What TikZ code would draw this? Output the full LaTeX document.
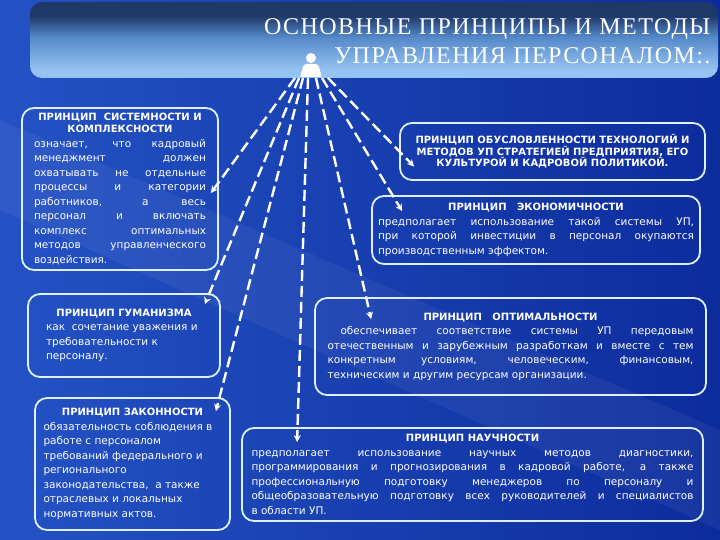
\documentclass[tikz,border=0pt]{standalone}
\usepackage{fontspec}
\usetikzlibrary{arrows.meta, positioning}
\setmainfont{DejaVu Sans}
\newfontfamily\headfont[LetterSpace=6]{Liberation Serif}
\definecolor{bgleft}{RGB}{36,82,196}
\definecolor{bgright}{RGB}{12,44,156}
\definecolor{frame}{RGB}{222,240,255}
\definecolor{bandark}{RGB}{30,56,104}
\definecolor{banmid}{RGB}{84,136,200}
\definecolor{banlight}{RGB}{150,196,242}
\pgfdeclareverticalshading{banner}{100bp}{color(0bp)=(banlight); color(30bp)=(banlight); color(52bp)=(banmid); color(66bp)=(bandark); color(100bp)=(bandark)}
\def\cornerrad{12pt}
\newcommand{\ptitle}[1]{{\centering\bfseries\fontsize{10}{12.5}\selectfont #1\par}}

\begin{document}
\begin{tikzpicture}[x=1pt,y=-1pt]
    \tikzstyle{principle}=[draw=frame, line width=1.8pt, rounded corners=\cornerrad, text=white, inner sep=0pt, align=justify, font=\fontsize{10.5}{14.5}\selectfont]
    \tikzstyle{link}=[-{Stealth[length=7pt,width=7pt]}, white, line width=2.4pt, dash pattern=on 11pt off 5pt]

    % Background and title banner
    \useasboundingbox (0,0) rectangle (720,540);
    \shade[left color=bgleft, right color=bgright] (0,0) rectangle (720,540);
    \fill[white, opacity=0.05] (0,120) -- (0,210) -- (720,530) -- (720,430) -- cycle;
    \shade[shading=banner, rounded corners=12pt] (30,2) rectangle (718,78);
    \node[font=\headfont\fontsize{24}{29}\selectfont, text=white, align=right, anchor=east] (title) at (714,41)
        {ОСНОВНЫЕ ПРИНЦИПЫ И МЕТОДЫ\\ УПРАВЛЕНИЯ ПЕРСОНАЛОМ:.};

    % The little figure the arrows start from
    \fill[white] (311,58) circle (5);
    \fill[white, rounded corners=2pt] (300,77) -- (304,64) -- (318,64) -- (322,77) -- cycle;
    \coordinate (hub) at (311,78);

    % Left column
    \node[principle, minimum width=196, minimum height=162, text width=172] (P-sys) at (120,189) {%
        \ptitle{ПРИНЦИП\ \ СИСТЕМНОСТИ И\\ КОМПЛЕКСНОСТИ}
        означает, что кадровый\linebreak менеджмент должен\linebreak охватывать не отдельные\linebreak
        процессы и категории\linebreak работников, а весь\linebreak персонал и включать\linebreak
        комплекс оптимальных\linebreak методов управленческого\linebreak воздействия.};
    \node[principle, minimum width=192, minimum height=83, text width=156] (P-hum) at (124,335.5) {%
        \ptitle{ПРИНЦИП ГУМАНИЗМА}
        {\raggedright как\ \ сочетание уважения и\\ требовательности к\\ персоналу.\par}};
    \node[principle, minimum width=195, minimum height=132, text width=178] (P-law) at (132.5,464) {%
        \ptitle{ПРИНЦИП ЗАКОННОСТИ}
        {\raggedright обязательность соблюдения в\\ работе с персоналом\\ требований федерального и\\
        регионального\\ законодательства,\ \ а также\\ отраслевых и локальных\\ нормативных актов.\par}};

    % Right column
    \node[principle, minimum width=305, minimum height=57, text width=290] (P-cult) at (552.5,151.5) {%
        {\centering\bfseries\fontsize{10}{11.5}\selectfont ПРИНЦИП ОБУСЛОВЛЕННОСТИ ТЕХНОЛОГИЙ И\\
        МЕТОДОВ УП СТРАТЕГИЕЙ ПРЕДПРИЯТИЯ, ЕГО\\ КУЛЬТУРОЙ И КАДРОВОЙ ПОЛИТИКОЙ.\par}};
    \node[principle, minimum width=328, minimum height=68, text width=316] (P-eco) at (536,230) {%
        \ptitle{ПРИНЦИП\ \ \ ЭКОНОМИЧНОСТИ}
        предполагает использование такой системы УП,\linebreak при которой инвестиции в персонал окупаются\linebreak
        производственным эффектом.};
    \node[principle, minimum width=391, minimum height=97, text width=366] (P-opt) at (510.5,346.5) {%
        \ptitle{ПРИНЦИП\ \ \ ОПТИМАЛЬНОСТИ}
        \hspace*{13pt}обеспечивает соответствие системы УП передовым\linebreak
        отечественным и зарубежным разработкам и вместе с тем\linebreak
        конкретным условиям, человеческим, финансовым,\linebreak техническим и другим ресурсам организации.};
    \node[principle, minimum width=461, minimum height=93, text width=442] (P-sci) at (472.5,474.5) {%
        \ptitle{ПРИНЦИП НАУЧНОСТИ}
        предполагает использование научных методов диагностики,\linebreak
        программирования и прогнозирования в кадровой работе, а также\linebreak
        профессиональную подготовку менеджеров по персоналу и\linebreak
        общеобразовательную подготовку всех руководителей и специалистов\linebreak в области УП.};

    % Arrow tips on every box
    \coordinate (T-sys) at ([xshift=-8pt,yshift=-4pt]P-sys.east);
    \coordinate (T-hum) at ([xshift=-16pt,yshift=-11pt]P-hum.north east);
    \coordinate (T-law) at ([xshift=-15pt,yshift=-14pt]P-law.north east);
    \coordinate (T-sci) at ([xshift=56pt,yshift=-15pt]P-sci.north west);
    \coordinate (T-opt) at ([xshift=57pt,yshift=-22pt]P-opt.north west);
    \coordinate (T-eco) at ([xshift=31pt,yshift=-16pt]P-eco.north west);
    \coordinate (T-cult) at ([xshift=15pt,yshift=-15pt]P-cult.west);

    % Connect the figure with every principle
    \foreach \dx/\name in {-16/sys, -12/hum, -8/law, -3/sci, 5/opt, 11/eco, 17/cult}
        \draw[link] ([xshift=\dx pt]hub) -- (T-\name);
\end{tikzpicture}
\end{document}
